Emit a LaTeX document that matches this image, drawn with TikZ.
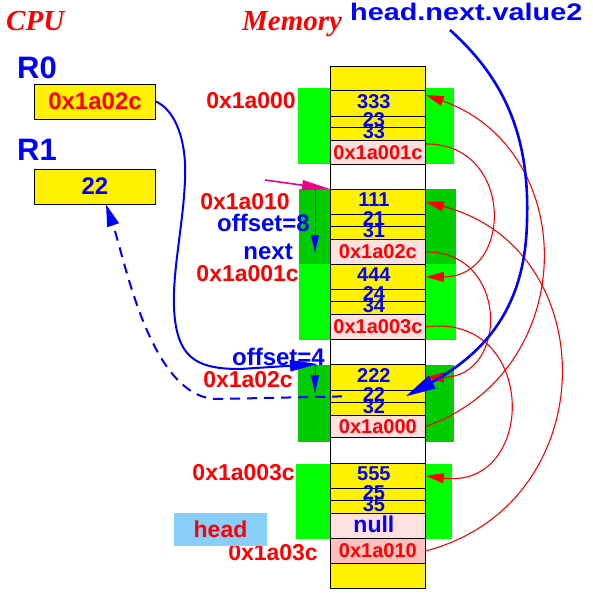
\documentclass[tikz,border=0pt]{standalone}
\usepackage{fontspec}
\setmainfont{Liberation Sans}
\newfontfamily\serifbi{Liberation Serif}
\newfontfamily\widesans[FakeStretch=1.2]{Liberation Sans}
\usetikzlibrary{arrows.meta}
\definecolor{lgreen}{RGB}{0,255,0}
\definecolor{dgreen}{RGB}{0,204,0}
\definecolor{lpink}{RGB}{255,224,224}
\definecolor{dpink}{RGB}{255,192,192}
\definecolor{headblue}{RGB}{135,206,250}
\newcommand{\pxfont}[1]{\fontsize{#1}{#1}\selectfont\bfseries}
\begin{document}
\begin{tikzpicture}[x=1pt, y=-1pt,
  cell/.style={draw, fill=yellow, line width=0.8pt, minimum width=95pt, minimum height=#1, inner sep=0pt, anchor=north west},
  num/.style={text=blue, font=\pxfont{20}, inner sep=0pt, xshift=-4pt, yshift=2pt},
  addr/.style={text=red, font=\pxfont{20}, inner sep=0pt},
  lbl/.style={text=red, font=\pxfont{23}, inner sep=0pt, anchor=east},
  regbox/.style={draw, fill=yellow, line width=0.8pt, minimum width=121pt, minimum height=35pt, inner sep=0pt, font=\pxfont{24}},
  title/.style={text=red, font=\serifbi\fontsize{29}{29}\selectfont\bfseries\itshape, anchor=base west, inner sep=0pt},
  ptr/.style={red, line width=1.1pt, -{Triangle[length=18pt,width=10pt]}},
  offarr/.style={blue, line width=0.8pt, -{Triangle[length=18pt,width=8pt]}}]
\useasboundingbox (0,0) rectangle (592,600);

% green blocks behind memory
\fill[lgreen] (298,88) rectangle (454,164);
\fill[dgreen] (299,189) rectangle (456,264);
\fill[lgreen] (299,264) rectangle (456,340);
\fill[dgreen] (298,365) rectangle (454,442);
\fill[lgreen] (296,464) rectangle (452,539);

% memory cells
\node[cell=24pt] (m0) at (330,66) {};
\node[cell=26pt] (v333) at (330,90) {};
\node[cell=11pt] (v23) at (330,116) {};
\node[cell=13pt] (v33) at (330,127) {};
\node[cell=24pt, fill=lpink] (p1c) at (330,140) {};
\node[cell=25pt, fill=white] (gap1) at (330,164) {};
\node[cell=25pt] (v111) at (330,189) {};
\node[cell=12pt] (v21) at (330,214) {};
\node[cell=13pt] (v31) at (330,226) {};
\node[cell=25pt, fill=lpink] (p2c) at (330,239) {};
\node[cell=25pt] (v444) at (330,264) {};
\node[cell=12pt] (v24) at (330,289) {};
\node[cell=13pt] (v34) at (330,301) {};
\node[cell=25pt, fill=lpink] (p3c) at (330,314) {};
\node[cell=25pt, fill=white] (gap2) at (330,339) {};
\node[cell=26pt] (v222) at (330,364) {};
\node[cell=12pt] (v22) at (330,390) {};
\node[cell=13pt] (v32) at (330,402) {};
\node[cell=22pt, fill=lpink] (p00) at (330,415) {};
\node[cell=26pt, fill=white] (gap3) at (330,437) {};
\node[cell=25pt] (v555) at (330,463) {};
\node[cell=12pt] (v25) at (330,488) {};
\node[cell=13pt] (v35) at (330,500) {};
\node[cell=25pt, fill=lpink] (vnull) at (330,513) {};
\node[cell=25pt, fill=dpink] (p10) at (330,538) {};
\node[cell=25pt] (m9) at (330,563) {};

% cell contents
\foreach \c/\t in {v333/333, v23/23, v33/33, v111/111, v21/21, v31/31, v444/444, v24/24, v34/34, v222/222, v22/22, v32/32, v555/555, v25/25, v35/35}
  \node[num] (t\c) at (\c) {\t};
\foreach \c/\t in {p1c/0x1a001c, p2c/0x1a02c, p3c/0x1a003c, p00/0x1a000, p10/0x1a010}
  \node[addr] (t\c) at (\c) {\t};
\node[num, font=\pxfont{23}] (tnull) at (vnull) {null};

% addresses and offsets
\node[lbl] (a000) at (296,101) {0x1a000};
\node[lbl] (a010) at (290,202) {0x1a010};
\node[lbl, text=blue, font=\pxfont{24}] (off8) at (310,223) {offset=8};
\node[lbl, text=blue, font=\pxfont{24}] (next) at (293,252) {next};
\node[lbl] (a01c) at (299,274) {0x1a001c};
\node[lbl, text=blue, font=\pxfont{24}] (off4) at (325,357) {offset=4};
\node[lbl] (a02c) at (293,380) {0x1a02c};
\node[lbl] (a03c) at (295,473) {0x1a003c};
\node[lbl] (a03cb) at (318,553) {0x1a03c};
\node[fill=headblue, minimum width=93pt, minimum height=33pt, inner sep=0pt, text=red, font=\pxfont{23}] (head) at (220.5,529.5) {head};

% titles
\node[title] (cpu) at (6,30) {CPU};
\node[title] (mem) at (242,30) {Memory};
\node[anchor=base west, inner sep=0pt, text=blue, font={\widesans\fontsize{24}{24}\selectfont\bfseries}] (hnv) at (350,20) {head.next.value2};

% registers
\node[anchor=west, inner sep=0pt, text=blue, font=\pxfont{31}] (r0) at (17,68) {R0};
\node[regbox, text=red] (r0box) at (95,101.5) {0x1a02c};
\node[anchor=west, inner sep=0pt, text=blue, font=\pxfont{31}] (r1) at (17,150) {R1};
\node[regbox, text=blue] (r1box) at (95,186.5) {22};

\coordinate (hnvfoot) at (450,30);
\coordinate (mstart) at (265,180);
\coordinate (off8a) at (315,190);
\coordinate (off8b) at (315,253);
\coordinate (off4a) at (315,365);
\coordinate (off4b) at (315,393);

% pointers in memory
\draw[ptr] (p1c.10) .. controls (514,143) and (514,277) .. (v444.east);
\draw[ptr] (p2c.east) .. controls (509,251) and (509,377) .. (v222.east);
\draw[ptr] (p3c.east) .. controls (538,312) and (538,490) .. (v555.east);
\draw[ptr] (p00.east) .. controls (581,371) and (581,150) .. (v333.10);
\draw[ptr] (p10.east) .. controls (605,504) and (605,248) .. (v111.east);

% register R0 used as address
\draw[blue, line width=2pt, -{Triangle[length=28pt,width=11pt]}] (r0box.east) .. controls (175,110) and (187,140) .. (185,180) .. controls (183,230) and (170,280) .. (175,320) .. controls (180,360) and (200,369) .. (240,369) -- ([xshift=-12pt]v222.north west);
\draw[blue, line width=2pt, dash pattern=on 10pt off 7pt, -{Triangle[length=22pt,width=12pt]}] ([xshift=12pt]v22.west) -- (215,399) .. controls (150,395) and (125,260) .. ([xshift=11pt]r1box.south);
\draw[offarr] (off8a) -- (off8b);
\draw[offarr] (off4a) -- (off4b);
\draw[magenta, line width=1.6pt, -{Triangle[length=28pt,width=10pt]}] (mstart) -- (v111.north west);
\draw[blue, line width=2.6pt, -{Triangle[length=30pt,width=14pt]}] (hnvfoot) .. controls (500,75) and (530,130) .. (527,220) .. controls (526,290) and (500,345) .. ([xshift=-20pt]v22.east);
\end{tikzpicture}
\end{document}
